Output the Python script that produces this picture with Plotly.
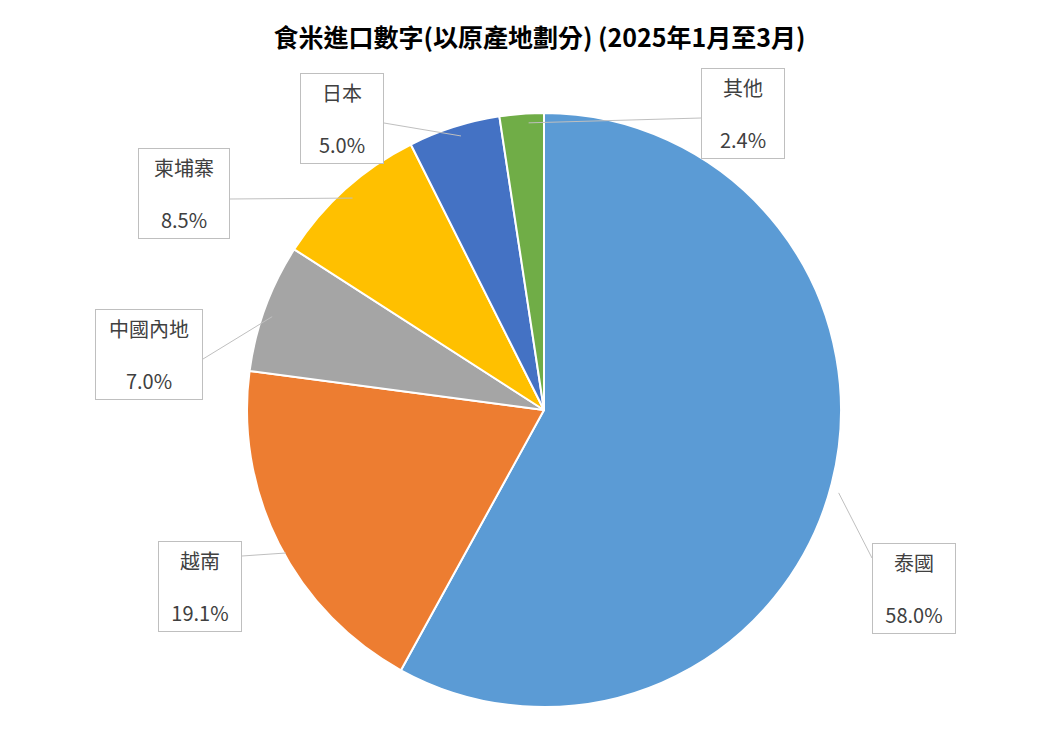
import math
import plotly.graph_objects as go

W, H = 1063, 731

regions = ['泰國', '越南', '中國內地', '柬埔寨', '日本', '其他']
shares = [58.0, 19.1, 7.0, 8.5, 5.0, 2.4]
colors = ['#5B9BD5', '#ED7D31', '#A5A5A5', '#FFC000', '#4472C4', '#70AD47']

# label box centres in pixels (layout only)
box_pos = [(906, 580), (192, 578), (141, 346), (176, 186), (334, 110), (735, 105)]
box_w = [84, 84, 108, 92, 84, 84]

cx, cy, R = 543, 411, 297
# small correction for plotly's pie placement inside its domain
dcx, dcy = -7, -9


def px(x, y):
    return x / W, 1 - y / H


fig = go.Figure(go.Pie(
    labels=regions, values=shares, sort=False, direction='clockwise',
    marker=dict(colors=colors, line=dict(color='white', width=2)),
    textinfo='none', hoverinfo='label+percent', showlegend=False,
    domain=dict(x=[(cx + dcx - R) / W, (cx + dcx + R) / W],
                y=[1 - (cy + dcy + R) / H, 1 - (cy + dcy - R) / H]),
))

total = sum(shares)
cum = 0
annotations = []
shapes = []
for name, v, (bx, by), bw in zip(regions, shares, box_pos, box_w):
    mid = (cum + v / 2) / total * 2 * math.pi
    cum += v
    ex = cx + math.sin(mid) * R
    ey = cy - math.cos(mid) * R
    side = bx - bw / 2 if bx > cx else bx + bw / 2
    ly = by - 30 if by > cy else by + 5
    x0, y0 = px(ex, ey)
    x1, y1 = px(side, ly)
    shapes.append(dict(type='line', xref='paper', yref='paper', x0=x0, y0=y0,
                       x1=x1, y1=y1, line=dict(color='#BFBFBF', width=1)))
    annotations.append(dict(
        text=f'{name}<br><br>{v:.1f}%', x=px(bx, by)[0], y=px(bx, by)[1],
        xref='paper', yref='paper', xanchor='center', yanchor='middle',
        showarrow=False, align='center',
        font=dict(size=20, color='#404040', family='Noto Sans CJK TC'),
        bgcolor='white', bordercolor='#BFBFBF', borderwidth=1, borderpad=4,
        width=bw - 10,
    ))

fig.update_layout(
    width=W, height=H,
    margin=dict(l=0, r=0, t=0, b=0),
    paper_bgcolor='white',
    title=dict(text='<b>食米進口數字(以原產地劃分) (2025年1月至3月)</b>',
               x=0.5, xanchor='center', y=1 - 30 / H, yanchor='middle',
               font=dict(size=25, color='black', family='Noto Sans CJK TC')),
    annotations=annotations,
    shapes=shapes,
)

fig.write_html('out.html')
